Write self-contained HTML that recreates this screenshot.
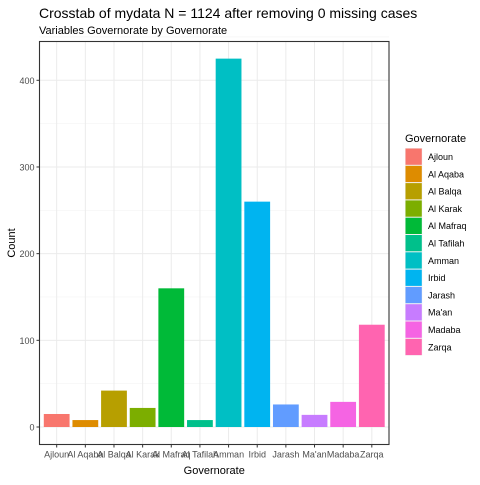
<!DOCTYPE html>
<html><head><meta charset="utf-8"><style>body{margin:0;background:#fff}svg{font-family:"Liberation Sans",Arial,sans-serif}</style></head>
<body>
<svg id="chart" width="480" height="480" xmlns="http://www.w3.org/2000/svg"></svg>
<script>
const categories=["Ajloun","Al Aqaba","Al Balqa","Al Karak","Al Mafraq","Al Tafilah","Amman","Irbid","Jarash","Ma'an","Madaba","Zarqa"];
const counts=[15,8,42,22,160,8,425,260,26,14,29,118];
const colors=["#F8766D","#DE8C00","#B79F00","#7CAE00","#00BA38","#00C08B","#00BFC4","#00B4F0","#619CFF","#C77CFF","#F564E3","#FF64B0"];
const yTicks=[0,100,200,300,400];
const NS="http://www.w3.org/2000/svg";
const svg=document.getElementById('chart');
const L=39.5,R=389,T=41.5,B=444.5;
const y0=427,pxPer=(427-80.3)/400;
function yS(v){return y0-v*pxPer;}
const unit=(R-L)/(categories.length-1+1.2);
function xS(i){return L+(i+0.6)*unit;}
function mk(tag,attrs,txt){const e=document.createElementNS(NS,tag);for(const k in attrs)e.setAttribute(k,attrs[k]);if(txt!=null)e.textContent=txt;svg.appendChild(e);return e;}
let e;
e=mk('text',{x:39,y:18,'font-size':14,fill:'#000'},'Crosstab of mydata N = 1124 after removing 0 missing cases');


e=mk('text',{x:39,y:34,'font-size':11,fill:'#000'},'Variables Governorate by Governorate');


for(let k=0;k<yTicks.length-1;k++){const v=(yTicks[k]+yTicks[k+1])/2;mk('line',{x1:L,x2:R,y1:yS(v),y2:yS(v),stroke:'#f0f0f0','stroke-width':0.5});}
e=mk('line',{x1:L,x2:R,y1:yS(450),y2:yS(450),stroke:'#f0f0f0','stroke-width':0.5});
yTicks.forEach(v=>{e=mk('line',{x1:L,x2:R,y1:yS(v),y2:yS(v),stroke:'#ebebeb','stroke-width':1});

});
categories.forEach((c,i)=>{mk('line',{x1:xS(i),x2:xS(i),y1:T,y2:B,stroke:'#ebebeb','stroke-width':1});});
const bw=unit*0.9;
counts.forEach((v,i)=>{e=mk('rect',{x:xS(i)-bw/2,y:yS(v),width:bw,height:yS(0)-yS(v),fill:colors[i]});

});
e=mk('rect',{x:L,y:T,width:R-L,height:B-T,fill:'none',stroke:'#333','stroke-width':1.1});


yTicks.forEach(v=>{mk('line',{x1:L-3,x2:L,y1:yS(v),y2:yS(v),stroke:'#333'});
e=mk('text',{x:L-5,y:yS(v)+3.5,'font-size':9,fill:'#4d4d4d','text-anchor':'end'},String(v));

});
categories.forEach((c,i)=>{mk('line',{x1:xS(i),x2:xS(i),y1:B,y2:B+3,stroke:'#333'});
e=mk('text',{x:xS(i),y:B+13,'font-size':9,fill:'#4d4d4d','text-anchor':'middle'},c);

});
e=mk('text',{x:(L+R)/2,y:474,'font-size':11,fill:'#000','text-anchor':'middle'},'Governorate');


e=mk('text',{x:0,y:0,'font-size':11,fill:'#000','text-anchor':'middle',transform:`translate(15,${(T+B)/2}) rotate(-90)`},'Count');


e=mk('text',{x:405,y:142,'font-size':11,fill:'#000'},'Governorate');


categories.forEach((c,i)=>{const yy=148+i*17.3;
e=mk('rect',{x:405,y:yy,width:17.3,height:17.3,fill:'#f2f2f2'});
e=mk('rect',{x:405.5,y:yy+0.5,width:16.3,height:16.3,fill:colors[i]});


e=mk('text',{x:428,y:yy+12,'font-size':9,fill:'#000'},c);

});
</script>
</body></html>
